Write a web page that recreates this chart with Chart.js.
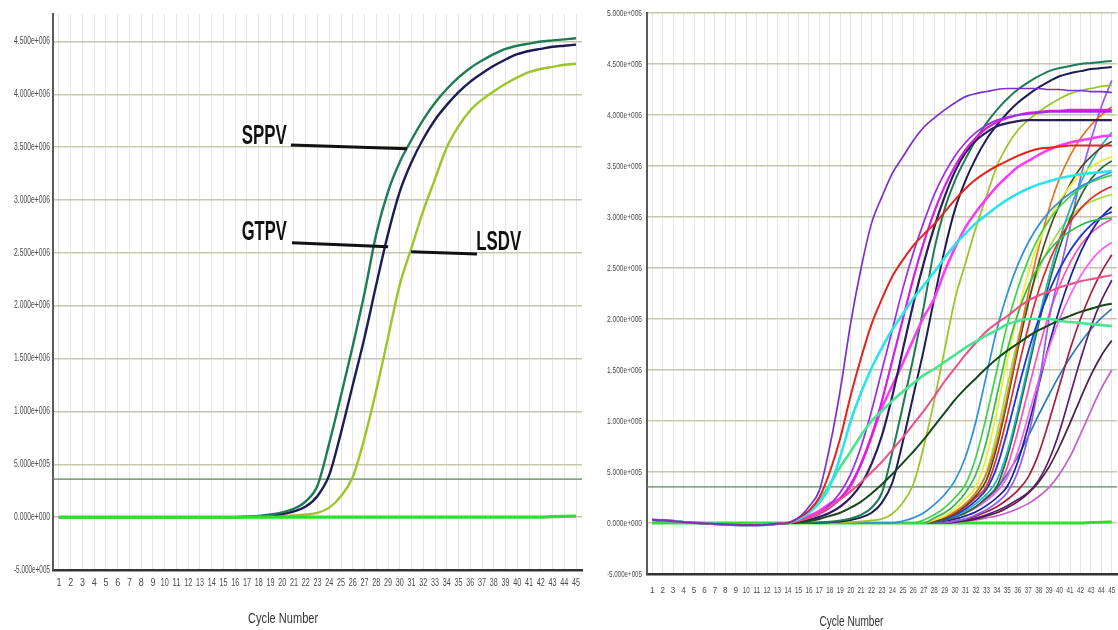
<!DOCTYPE html>
<html>
<head>
<meta charset="utf-8">
<script src="https://cdn.jsdelivr.net/npm/chart.js@4.4.1/dist/chart.umd.min.js"></script>
<style>
  html, body { margin: 0; padding: 0; background: #fff; }
  #wrap { position: relative; width: 1118px; height: 630px; overflow: hidden; }
  canvas { position: absolute; top: 0; }
  #left { left: 0; }
  #right { left: 590px; }
</style>
</head>
<body>
<div id="wrap">
  <canvas id="left" width="590" height="630"></canvas>
  <canvas id="right" width="528" height="630"></canvas>
</div>
<script>
// Werte in Einheiten von 1e5 (Fluoreszenz)
const UNIT = 1e5;

// Zyklen 1..45 (x-Achse)
const cycles = [1,2,3,4,5,6,7,8,9,10,11,12,13,14,15,16,17,18,19,20,21,22,23,24,25,26,27,28,29,30,31,32,33,34,35,36,37,38,39,40,41,42,43,44,45];

// y-Ticks (1e5)
const yTicksLeft = [-5,0,5,10,15,20,25,30,35,40,45];
const yTicksRight = [-5,0,5,10,15,20,25,30,35,40,45,50];

// Schwellenwerte
const thrLeft = 3.6;
const thrRight = 3.55;

// Linkes Diagramm: SPPV, GTPV, LSDV (Zyklus 1..45)
const sppv = [0,0,0,0,0,0,0,0,0,0,0,0,0,0,0,0,0.05,0.12,0.25,0.45,0.8,1.5,3.0,7.0,11.5,16.2,21.2,26.8,30.8,33.6,35.7,37.6,39.2,40.5,41.6,42.5,43.2,43.8,44.3,44.6,44.8,45.0,45.1,45.2,45.3];
const gtpv = [0,0,0,0,0,0,0,0,0,0,0,0,0,0,0,0,0.03,0.08,0.15,0.3,0.55,1.0,2.0,4.0,8.0,12.5,17.0,22.0,26.8,30.8,33.6,35.8,37.6,39.0,40.2,41.2,42.0,42.7,43.3,43.8,44.1,44.3,44.5,44.6,44.7];
const lsdv = [0,0,0,0,0,0,0,0,0,0,0,0,0,0,0,0,0,0,0.03,0.07,0.15,0.25,0.4,0.9,2.0,3.8,7.5,12.0,17.0,22.0,25.5,29.0,32.0,35.0,37.0,38.5,39.5,40.3,41.0,41.6,42.1,42.4,42.6,42.8,42.9];
const baseline = [0,0,0,0,0,0,0,0,0,0,0,0,0,0,0,0,0,0,0,0,0,0,0,0,0,0,0,0,0,0,0,0,0,0,0,0,0,0,0,0,0,0,0.05,0.08,0.1];

// Rechtes Diagramm: gemeinsamer Verlauf Zyklus 1..13
const baseStart = [0.3,0.26,0.18,0.08,0.02,-0.04,-0.09,-0.14,-0.18,-0.2,-0.2,-0.16,-0.07];

// Rechtes Diagramm: Kurven ab Zyklus 14..45
const purpleR = [0,0.5,1.6,3.2,7.5,13,19.6,25,29.4,32,34.3,35.9,37.5,38.8,39.7,40.5,41.2,41.8,42.1,42.3,42.5,42.6,42.6,42.6,42.6,42.5,42.5,42.4,42.4,42.3,42.3,42.2];
const redR = [0,0.5,1.2,2.5,5,8.3,12.5,16.2,19.5,22,24.2,25.8,27.2,28.3,29.3,30.5,31.7,32.8,33.7,34.4,35,35.5,36,36.4,36.7,36.8,36.9,37,37,37,37,37];
const cyanR = [0,0.4,1.0,2.0,3.6,6.5,10,12.8,15.2,17.2,19,20.5,22,23.3,24.6,26,27.3,28.4,29.4,30.2,31,31.7,32.3,32.8,33.2,33.5,33.8,34,34.2,34.3,34.4,34.5];
const mintSlowR = [0,0.4,1.0,2.2,3.8,5.5,7,8.6,10,11,12,12.9,13.7,14.5,15.1,15.8,16.5,17.2,17.8,18.4,18.9,19.5,19.8,20,20,20,19.8,19.7,19.6,19.5,19.4,19.3];
const pinkSlowR = [0,0.2,0.5,1.0,1.6,2.3,3.1,4.0,5.0,6.0,7.2,8.4,9.7,11.0,12.4,13.9,15.2,16.5,17.7,18.8,19.6,20.3,21.1,21.8,22.3,22.7,23.1,23.4,23.7,23.9,24.1,24.3];
const darkGreenSlowR = [0,0.1,0.2,0.4,0.7,1.0,1.5,2.1,2.9,3.8,4.8,5.9,7.0,8.2,9.5,10.8,12.1,13.2,14.2,15.2,16.1,16.9,17.6,18.3,18.9,19.4,19.9,20.3,20.7,21.0,21.3,21.5];
const violetR = [0,0.2,0.5,1.0,1.8,3.0,4.8,7.5,11,15,19,23,26.5,29.5,32.2,34.3,36,37.3,38.3,39,39.5,39.8,40,40.1,40.2,40.3,40.3,40.3,40.3,40.3,40.3,40.3];
const magentaR = [0,0.2,0.5,0.9,1.5,2.4,3.8,5.8,8.5,12,16,20,24,27.5,30.5,33,35,36.6,37.8,38.7,39.3,39.7,40,40.2,40.3,40.4,40.4,40.5,40.5,40.5,40.5,40.5];
const darkNavyR = [0,0.1,0.3,0.6,1.0,1.6,2.5,3.8,5.8,8.6,12.5,17,21.5,25.5,29,32,34.5,36.3,37.5,38.3,38.9,39.2,39.4,39.5,39.5,39.5,39.5,39.5,39.5,39.5,39.5,39.5];
const magentaGradR = [0,0.3,0.7,1.2,1.9,2.4,3.6,5.8,8.5,11.3,13.5,15.7,18,20.2,22,24.7,27,29,30.5,31.8,33,34,34.9,35.5,36.1,36.6,37,37.3,37.5,37.7,37.9,38];
const steelR = [0,0,0,0,0,0,0,0,0,0,0,0.2,0.5,1.0,1.8,2.8,4.2,6.5,10,14.5,19,22.5,25.3,27.5,29.2,30.5,31.5,32.3,33,33.5,34,34.4];
const greenR = [0,0,0,0,0,0,0,0,0,0,0,0,0,0.3,0.8,1.5,2.5,3.8,6.5,10.5,15,19.5,23,25.8,28,29.7,31,32,32.8,33.4,33.8,34.1];
const green2R = [0,0,0,0,0,0,0,0,0,0,0,0,0,0,0.5,1.0,1.8,3.0,4.8,8,12.5,17,20.5,23.2,25.2,26.7,27.8,28.6,29.2,29.6,29.8,29.9];
const yellowR = [0,0,0,0,0,0,0,0,0,0,0,0,0,0,0.3,0.7,1.4,2.4,3.6,6.5,11,16,20.5,24.5,27.5,29.8,31.6,33,34.1,34.9,35.5,35.9];
const orangeR = [0,0,0,0,0,0,0,0,0,0,0,0,0,0,0.3,0.6,1.1,1.9,3.0,4.8,8,12.5,17.5,22.5,27,30.8,33.8,36,37.7,39,40,40.8];
const oliveR = [0,0,0,0,0,0,0,0,0,0,0,0,0,0,0.2,0.5,1.0,1.7,2.7,4.2,7.5,12,17,21.5,25.5,28.7,31.2,33.2,34.8,35.9,36.8,37.4];
const redLateR = [0,0,0,0,0,0,0,0,0,0,0,0,0,0,0.2,0.5,0.9,1.6,2.5,3.6,6.5,10.5,15,19.2,22.8,25.6,27.8,29.5,30.8,31.8,32.5,33];
const blueR = [0,0,0,0,0,0,0,0,0,0,0,0,0,0,0.2,0.4,0.8,1.4,2.2,3.3,5.5,9,13,16.8,20,22.7,24.9,26.7,28.1,29.2,30,30.5];
const tealR = [0,0,0,0,0,0,0,0,0,0,0,0,0,0,0.2,0.4,0.7,1.2,1.9,2.8,4.2,7,11,15.5,20,24.2,27.8,30.8,33.3,35.3,37,38.3];
const darkGreenLateR = [0,0,0,0,0,0,0,0,0,0,0,0,0,0,0.1,0.3,0.6,1.0,1.6,2.5,3.6,6.5,10.5,15,19.5,23.5,27,29.8,32,33.7,34.8,35.5];
const violetLateR = [0,0,0,0,0,0,0,0,0,0,0,0,0,0,0,0,0.2,0.4,0.8,1.3,2.0,3.0,5.0,8.5,13.5,20,24.5,29,33.8,37.5,40.8,43.4];
const magentaLateR = [0,0,0,0,0,0,0,0,0,0,0,0,0,0,0.1,0.3,0.6,1.0,1.5,2.2,3.1,4.5,7,10.5,14,17.2,20,22.3,24.2,25.7,26.8,27.5];
const navyLateR = [0,0,0,0,0,0,0,0,0,0,0,0,0,0,0.1,0.2,0.4,0.7,1.1,1.7,2.5,3.6,6,9.5,13.5,17.5,21,24,26.5,28.5,30,31];
const maroonR = [0,0,0,0,0,0,0,0,0,0,0,0,0,0,0,0,0.2,0.4,0.7,1.1,1.6,2.3,3.2,4.5,6.8,10,13.5,17,20,22.5,24.6,26.3];
const darkPurpleR = [0,0,0,0,0,0,0,0,0,0,0,0,0,0,0,0,0.1,0.3,0.5,0.8,1.2,1.7,2.3,3.0,4.2,6.2,9,12.5,16,19.2,21.8,23.8];
const steelSlowR = [0,0,0,0,0,0,0,0,0,0,0,0,0,0,0.1,0.3,0.6,1.0,1.6,2.4,3.4,4.8,6.5,8.5,10.6,12.6,14.5,16.2,17.7,19,20.1,21];
const plumR = [0,0,0,0,0,0,0,0,0,0,0,0,0,0,0,0,0.1,0.2,0.4,0.7,1.0,1.5,2.1,2.9,4.0,5.5,7.5,9.8,12.2,14.5,16.4,17.9];
const orchidR = [0,0,0,0,0,0,0,0,0,0,0,0,0,0,0,0,0.1,0.2,0.3,0.5,0.7,1.0,1.4,1.9,2.6,3.5,4.8,6.5,8.7,11,13.2,15];
const limeR = [0,0,0,0,0,0,0,0,0,0,0,0,0,0,0.3,0.6,1.1,1.9,3.0,5,8.8,13.5,18,21.8,24.8,27,28.7,30,30.9,31.5,31.9,32.2];
const pinkLateR = [0,0,0,0,0,0,0,0,0,0,0,0,0,0,0.1,0.3,0.6,1.0,1.6,2.4,3.3,5.5,9,13,17,20.5,23.3,25.5,27.2,28.4,29.2,29.8];

// Beschriftungen links (Text + Hinweislinien, in Zyklus / 1e5)
const noteText = ["SPPV", "GTPV", "LSDV"];
const noteTextAt = [[16.55, 36.0], [16.55, 26.9], [36.5, 26.0]];
const noteLine = [[20.74, 35.2, 30.62, 34.85], [20.83, 25.95, 29.0, 25.57], [30.96, 25.1, 36.57, 24.9]];

const xTitle = "Cycle Number";
const FONT = '"Liberation Sans Narrow", "Arial Narrow", "Liberation Sans", Arial, sans-serif';

// Zahl wie 4.500e+006 formatieren
function sci(v) {
  if (Math.abs(v) < 1e-9) return "0.000e+000";
  const sign = v < 0 ? "-" : "";
  const a = Math.abs(v);
  const e = Math.floor(Math.log10(a) + 1e-9);
  const m = a / Math.pow(10, e);
  return sign + m.toFixed(3) + "e+" + String(e).padStart(3, "0");
}

function pts(vals) {
  return vals.map((v, i) => ({ x: cycles[i], y: v * UNIT }));
}

function line(vals, color, width) {
  return {
    data: pts(vals),
    borderColor: color,
    borderWidth: width,
    pointRadius: 0,
    cubicInterpolationMode: "monotone",
    fill: false,
  };
}

function thrLine(v) {
  return {
    data: [{ x: 0.5, y: v * UNIT }, { x: 45.5, y: v * UNIT }],
    borderColor: "#4f8a55",
    borderWidth: 1.3,
    pointRadius: 0,
    fill: false,
  };
}

// Achsen-Optionen (Beschriftung zeichnet das Plugin, schmal gestaucht)
function makeScales(yTicks, yMax, yWidth, xHeight) {
  return {
    x: {
      type: "linear",
      min: 0.5,
      max: 45.5,
      afterBuildTicks: (s) => { s.ticks = cycles.map((c) => ({ value: c })); },
      afterFit: (s) => { s.height = xHeight; },
      grid: { color: "#e6e6e6", lineWidth: 1, drawTicks: false },
      border: { color: "#333", width: 2.5 },
      ticks: { display: false },
    },
    y: {
      min: -5 * UNIT,
      max: yMax,
      afterBuildTicks: (s) => { s.ticks = yTicks.map((t) => ({ value: t * UNIT })); },
      afterFit: (s) => { s.width = yWidth; },
      grid: { color: "#c6c6b2", lineWidth: 1.5, drawTicks: false },
      border: { color: "#5a5a5a", width: 2 },
      ticks: { display: false },
    },
  };
}

// Achsenbeschriftung + Titel
function axisLabels(cfg) {
  return {
    id: "axisLabels",
    afterDraw(chart) {
      const { ctx, chartArea: a, scales: { x, y } } = chart;
      ctx.save();
      ctx.fillStyle = "#4a4a4a";
      ctx.font = cfg.yFont + "px " + FONT;
      ctx.textAlign = "right";
      ctx.textBaseline = "middle";
      cfg.yTicks.forEach((t) => {
        ctx.fillText(sci(t * UNIT), a.left - cfg.yGap, y.getPixelForValue(t * UNIT), cfg.yMaxW);
      });
      ctx.textAlign = "center";
      ctx.font = cfg.xFont + "px " + FONT;
      cycles.forEach((c) => {
        ctx.fillText(String(c), x.getPixelForValue(c), cfg.xLabelY, c < 10 ? cfg.xMaxW / 2 + 1 : cfg.xMaxW);
      });
      ctx.fillStyle = "#333";
      ctx.font = cfg.titleFont + "px " + FONT;
      ctx.fillText(xTitle, a.left + (a.right - a.left) * 0.435, cfg.titleY, cfg.titleW);
      ctx.restore();
    },
  };
}

// Beschriftungen SPPV / GTPV / LSDV zeichnen
const notesPlugin = {
  id: "notes",
  afterDatasetsDraw(chart) {
    const { ctx, scales: { x, y } } = chart;
    ctx.save();
    ctx.strokeStyle = "#111";
    ctx.lineWidth = 3;
    noteLine.forEach((l) => {
      ctx.beginPath();
      ctx.moveTo(x.getPixelForValue(l[0]), y.getPixelForValue(l[1] * UNIT));
      ctx.lineTo(x.getPixelForValue(l[2]), y.getPixelForValue(l[3] * UNIT));
      ctx.stroke();
    });
    ctx.fillStyle = "#111";
    ctx.font = "bold 27px " + FONT;
    ctx.textBaseline = "middle";
    ctx.textAlign = "left";
    noteText.forEach((t, i) => {
      ctx.fillText(t, x.getPixelForValue(noteTextAt[i][0]), y.getPixelForValue(noteTextAt[i][1] * UNIT), 45);
    });
    ctx.restore();
  },
};

const common = {
  responsive: false,
  animation: false,
  devicePixelRatio: 1,
  plugins: { legend: { display: false }, tooltip: { enabled: false } },
};

// Linkes Diagramm
new Chart(document.getElementById("left"), {
  type: "line",
  data: {
    datasets: [
      line(baseline, "#2ee02e", 3.2),
      line(sppv, "#1e7b53", 2.4),
      line(gtpv, "#1c1c55", 2.4),
      line(lsdv, "#9cc52a", 2.4),
      thrLine(thrLeft),
    ],
  },
  options: {
    ...common,
    layout: { padding: { left: 0, right: 8, top: 14, bottom: 0 } },
    scales: makeScales(yTicksLeft, 47.6 * UNIT, 53, 60),
  },
  plugins: [notesPlugin, axisLabels({
    yTicks: yTicksLeft, yFont: 10, yGap: 3, yMaxW: 36,
    xFont: 10, xMaxW: 8, xLabelY: 583,
    titleFont: 15, titleY: 619, titleW: 70,
  })],
});

// Rechtes Diagramm
const rightSeries = [
  [purpleR, "#7b2fcf", 1.7], [redR, "#e5221c", 2], [cyanR, "#2de3ea", 2.6],
  [mintSlowR, "#48e48e", 2.6], [pinkSlowR, "#ee4f84", 2], [darkGreenSlowR, "#17461c", 2],
  [violetR, "#9a2ee8", 1.7], [magentaR, "#d61ee0", 2.2], [darkNavyR, "#2b1c5a", 2.2],
  [magentaGradR, "#fb3cf5", 2.6],
  [sppv.slice(13), "#1e7b53", 2], [gtpv.slice(13), "#1c1c55", 2], [lsdv.slice(13), "#9cc52a", 1.8],
  [steelR, "#2f8fdc", 1.7], [greenR, "#3fd24b", 1.7], [green2R, "#37b94a", 1.7],
  [yellowR, "#eded3c", 1.8], [orangeR, "#e8731f", 1.7], [oliveR, "#4b4a1d", 1.7],
  [redLateR, "#dc2b2b", 1.7], [blueR, "#1f34dc", 1.8], [tealR, "#21b3c6", 1.7],
  [darkGreenLateR, "#1f6a29", 1.7], [violetLateR, "#935cf0", 1.7], [magentaLateR, "#ff5cf0", 1.7],
  [navyLateR, "#161f96", 1.7], [maroonR, "#a3203e", 1.7], [darkPurpleR, "#5c1e6c", 1.7],
  [steelSlowR, "#2e79b8", 1.7], [plumR, "#4d1f40", 1.7], [orchidR, "#c262c6", 1.7],
  [limeR, "#a0e040", 1.7], [pinkLateR, "#ff4fb8", 1.7],
];

new Chart(document.getElementById("right"), {
  type: "line",
  data: {
    datasets: [
      ...rightSeries.map((s) => line(baseStart.concat(s[0]), s[1], s[2])),
      line(baseline, "#2ee02e", 3),
      thrLine(thrRight),
    ],
  },
  options: {
    ...common,
    layout: { padding: { left: 0, right: 1, top: 13, bottom: 0 } },
    scales: makeScales(yTicksRight, 50 * UNIT, 57, 56),
  },
  plugins: [axisLabels({
    yTicks: yTicksRight, yFont: 9.5, yGap: 5, yMaxW: 35,
    xFont: 9.5, xMaxW: 7, xLabelY: 590,
    titleFont: 15, titleY: 622, titleW: 64,
  })],
});
</script>
</body>
</html>
